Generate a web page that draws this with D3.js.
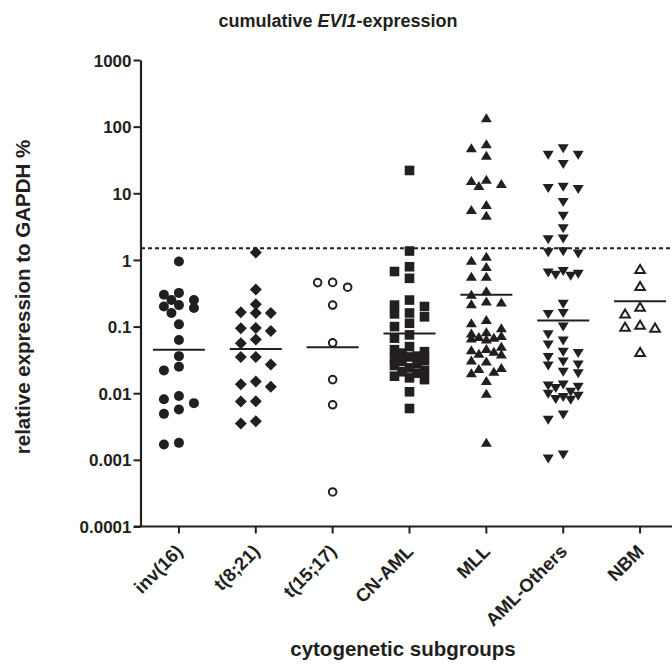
<!DOCTYPE html>
<html><head><meta charset="utf-8">
<script src="https://cdn.jsdelivr.net/npm/d3@7"></script>
<style>body{margin:0;background:#fff}svg{display:block}text{font-family:"Liberation Sans",Arial,sans-serif;font-weight:bold;fill:#231f20}</style>
</head><body>
<script>
const categories = ["inv(16)", "t(8;21)", "t(15;17)", "CN-AML", "MLL", "AML-Others", "NBM"];
const inv16 = [0.95, 0.32, 0.30, 0.25, 0.25, 0.21, 0.19, 0.20, 0.16, 0.108, 0.063, 0.036, 0.025, 0.022, 0.0081, 0.0091, 0.0071, 0.0057, 0.0049, 0.0017, 0.0018];
const t821 = [1.29, 0.36, 0.216, 0.16, 0.16, 0.164, 0.095, 0.094, 0.086, 0.064, 0.056, 0.035, 0.035, 0.027, 0.015, 0.0136, 0.0125, 0.0076, 0.0075, 0.0038, 0.0035];
const t1517 = [0.46, 0.39, 0.457, 0.21, 0.057, 0.016, 0.0067, 0.00033];
const cnAml = [22, 1.36, 0.79, 0.67, 0.53, 0.25, 0.21, 0.2, 0.16, 0.155, 0.14, 0.112, 0.1, 0.075, 0.067, 0.05, 0.045, 0.042, 0.04, 0.036, 0.035, 0.034, 0.031, 0.03, 0.028, 0.026, 0.024, 0.022, 0.021, 0.02, 0.018, 0.017, 0.016, 0.0105, 0.0059];
const mll = [134, 54.6, 47.5, 36.7, 15.9, 15.3, 13.8, 12.9, 6.7, 5.6, 4.6, 1.12, 0.97, 0.78, 0.56, 0.56, 0.34, 0.30, 0.237, 0.23, 0.216, 0.126, 0.112, 0.094, 0.082, 0.079, 0.072, 0.07, 0.068, 0.066, 0.064, 0.05, 0.046, 0.044, 0.042, 0.039, 0.038, 0.031, 0.03, 0.024, 0.023, 0.021, 0.02, 0.0152, 0.0098, 0.0018];
const amlOthers = [47.5, 37.8, 37.8, 27.4, 12.5, 12, 11.6, 7.4, 4.6, 3.0, 2.1, 2.05, 1.35, 1.25, 1.3, 0.68, 0.65, 0.6, 0.62, 0.58, 0.22, 0.16, 0.155, 0.1, 0.077, 0.062, 0.054, 0.042, 0.04, 0.035, 0.03, 0.027, 0.026, 0.021, 0.02, 0.0135, 0.013, 0.0125, 0.012, 0.0105, 0.0098, 0.0092, 0.0088, 0.0082, 0.008, 0.0048, 0.004, 0.0012, 0.00105];
const nbm = [0.72, 0.40, 0.195, 0.155, 0.098, 0.095, 0.105, 0.041];
const means = [0.045, 0.046, 0.049, 0.079, 0.30, 0.123, 0.24];
const cutoff = 1.5;
const yTicks = [0.0001, 0.001, 0.01, 0.1, 1, 10, 100, 1000];
const yTickLabels = ["0.0001", "0.001", "0.01", "0.1", "1", "10", "100", "1000"];
const seriesValues = [inv16, t821, t1517, cnAml, mll, amlOthers, nbm];
const markerTypes = ["circle", "diamond", "openCircle", "square", "triUp", "triDown", "openTriUp"];

const W = 672, H = 665, ink = "#231f20";
const svg = d3.select("body").append("svg").attr("width", W).attr("height", H);
const y = d3.scaleLog().domain([1e-4, 1e3]).range([526.5, 60]);
const x = d3.scaleBand().domain(categories).range([140.5, 678.5]);
const cx = c => x(c) + x.bandwidth() / 2;

const shapes = {
  circle: "M5,0A5,5 0 1,1 -5,0A5,5 0 1,1 5,0Z",
  openCircle: "M3.8,0A3.8,3.8 0 1,1 -3.8,0A3.8,3.8 0 1,1 3.8,0Z",
  diamond: "M0,-6L6,0L0,6L-6,0Z",
  square: "M-4.8,-4.8H4.8V4.8H-4.8Z",
  triUp: "M0,-5L5.5,4L-5.5,4Z",
  triDown: "M0,5L5.5,-4L-5.5,-4Z",
  openTriUp: "M0,-4.5L4.8,3.6L-4.8,3.6Z"
};

// dashed cutoff line
svg.append("line").attr("x1", 141).attr("x2", W).attr("y1", y(cutoff)).attr("y2", y(cutoff))
  .attr("stroke", ink).attr("stroke-width", 2).attr("stroke-dasharray", "4,3");

// points with simple column-scatter layout (limited width, overlaps allowed)
const s = 15;
const cands = [0, -s, s, -s / 2, s / 2];
categories.forEach((cat, i) => {
  const vals = seriesValues[i].slice().sort((a, b) => b - a);
  const placed = [];
  vals.forEach(v => {
    const py = y(v);
    let best = 0, bestScore = Infinity;
    for (const c of cands) {
      let score = 0;
      placed.forEach(p => {
        const ox = 9.5 - Math.abs(p.dx - c), oy = 9 - Math.abs(p.py - py);
        if (ox > 0 && oy > 0) score += ox * oy;
      });
      if (score === 0) { best = c; bestScore = 0; break; }
      if (score < bestScore) { bestScore = score; best = c; }
    }
    placed.push({dx: best, py, v});
  });
  const t = markerTypes[i];
  const open = t.startsWith("open");
  svg.append("g").selectAll("path").data(placed).join("path")
    .attr("d", shapes[t])
    .attr("transform", d => `translate(${cx(cat) + d.dx},${d.py})`)
    .attr("fill", open ? "#fff" : ink)
    .attr("stroke", open ? ink : "none")
    .attr("stroke-width", open ? 2 : 0);
  svg.append("line").attr("x1", cx(cat) - 26).attr("x2", cx(cat) + 26)
    .attr("y1", y(means[i])).attr("y2", y(means[i]))
    .attr("stroke", ink).attr("stroke-width", 2);
});

// y axis
const ya = svg.append("g").attr("transform", "translate(140.5,0)")
  .call(d3.axisLeft(y).tickValues(yTicks).tickFormat((d, i) => yTickLabels[i]).tickSize(7).tickSizeOuter(0));
ya.select(".domain").attr("stroke", ink).attr("stroke-width", 2.2);
ya.selectAll(".tick line").attr("stroke", ink).attr("stroke-width", 2);
ya.selectAll(".tick text").attr("font-size", 17).attr("font-family", null).attr("x", -9).attr("dy", "0.36em").style("fill", ink);

// x axis
const xa = svg.append("g").attr("transform", "translate(0,526.5)")
  .call(d3.axisBottom(x).tickSize(7).tickSizeOuter(0));
xa.select(".domain").attr("stroke", ink).attr("stroke-width", 2.2).attr("d", "M134,0H" + W);
xa.selectAll(".tick line").attr("stroke", ink).attr("stroke-width", 2);
xa.selectAll(".tick text").attr("font-size", 18.5).attr("font-family", null)
  .attr("text-anchor", "end").attr("dy", null).attr("y", 0)
  .attr("transform", "translate(5,26) rotate(-45)").style("fill", ink);

// titles
const title = svg.append("text").attr("x", 338).attr("y", 27).attr("text-anchor", "middle").attr("font-size", 18);
title.append("tspan").text("cumulative ");
title.append("tspan").attr("font-style", "italic").text("EVI1");
title.append("tspan").text("-expression");
svg.append("text").attr("x", 403).attr("y", 656).attr("text-anchor", "middle").attr("font-size", 20.5).text("cytogenetic subgroups");
svg.append("text").attr("transform", "translate(30,297) rotate(-90)").attr("text-anchor", "middle").attr("font-size", 20.5)
  .text("relative expression to GAPDH %");
</script>
</body></html>
